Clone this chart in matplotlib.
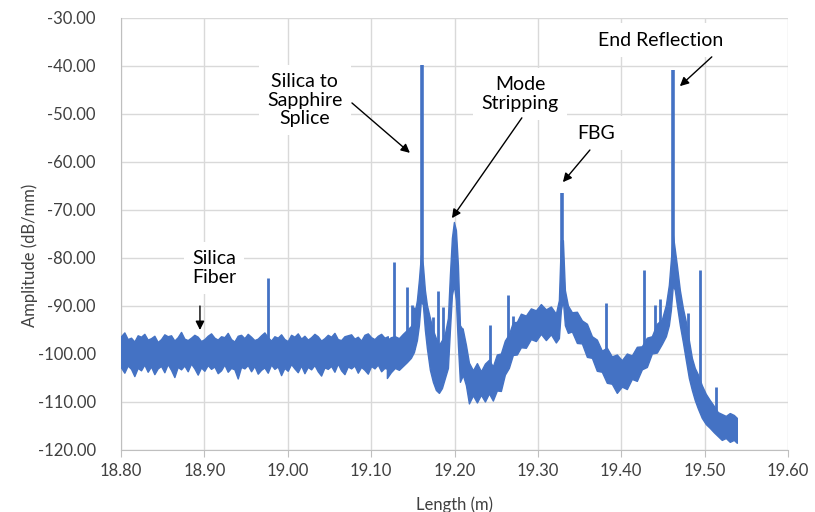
import matplotlib
matplotlib.use("Agg")
import matplotlib.pyplot as plt
from matplotlib.ticker import FormatStrFormatter

plt.rcParams['font.family'] = ['Lato', 'DejaVu Sans']

BLUE = '#4472C4'
GRID = '#D9D9D9'
AXIS = '#BFBFBF'
TEXT = '#404040'

# trace envelope: silica fiber noise floor, sampled every 4 mm from 18.800 to 19.120
floor_x = [round(18.800 + 0.004 * i, 3) for i in range(81)]
floor_hi = [-96.3, -95.5, -96.9, -96.6, -97.4, -96.1, -96.4, -95.8, -97.0, -96.7,
            -96.2, -97.5, -96.9, -95.9, -96.3, -96.1, -97.2, -96.5, -95.4, -96.8,
            -97.1, -96.6, -96.0, -96.4, -97.3, -96.9, -96.2, -95.7, -96.6, -97.0,
            -96.3, -96.5, -95.6, -96.9, -97.4, -96.2, -96.0, -96.7, -95.8, -96.4,
            -97.1, -96.8, -96.1, -95.5, -96.5, -97.2, -96.3, -96.6, -95.9, -96.9,
            -97.3, -96.0, -96.4, -95.7, -96.8, -96.2, -97.0, -96.5, -95.8, -96.3,
            -97.2, -96.7, -96.0, -96.4, -95.6, -96.9, -97.1, -96.3, -96.1, -95.9,
            -96.8, -96.4, -97.2, -96.0, -95.7, -96.5, -96.9, -96.2, -95.8, -96.6, -96.3]
floor_lo = [-102.8, -103.9, -102.4, -103.1, -104.6, -102.9, -103.4, -102.2, -103.7, -102.6,
            -104.2, -103.0, -102.5, -103.8, -102.1, -103.3, -104.8, -102.7, -103.2, -102.4,
            -103.6, -102.0, -103.0, -104.3, -102.8, -103.5, -102.3, -103.1, -102.6, -104.0,
            -103.4, -102.2, -103.7, -102.9, -103.2, -105.1, -102.7, -103.0, -102.3, -103.6,
            -102.5, -104.1, -103.3, -102.8, -103.9, -102.2, -103.1, -102.6, -104.4, -102.9,
            -103.5, -102.1, -103.0, -103.8, -102.4, -104.0, -102.7, -103.2, -102.3, -103.6,
            -104.5, -102.8, -103.1, -102.5, -103.7, -102.0, -103.4, -104.2, -102.6, -103.0,
            -102.4, -103.9, -102.7, -103.3, -104.1, -102.5, -103.0, -102.2, -103.6, -102.9, -103.1]

# trace envelope: sapphire section
sapph_x = [19.1189, 19.1237, 19.1285, 19.1333, 19.1381, 19.1429, 19.1477, 19.1513, 19.1549, 19.1573,
           19.1597, 19.1621, 19.1645, 19.1669, 19.1705, 19.1741, 19.1777, 19.1813, 19.1849, 19.1885,
           19.1921, 19.1945, 19.1969, 19.1993, 19.2017, 19.2041, 19.2065, 19.2101, 19.2137, 19.2173,
           19.2221, 19.2269, 19.2317, 19.2365, 19.2413, 19.2460, 19.2508, 19.2556, 19.2604, 19.2652,
           19.2700, 19.2748, 19.2796, 19.2856, 19.2916, 19.2976, 19.3036, 19.3096, 19.3156, 19.3216,
           19.3252, 19.3276, 19.3300, 19.3324, 19.3360, 19.3408, 19.3468, 19.3528, 19.3588, 19.3648,
           19.3707, 19.3767, 19.3827, 19.3887, 19.3947, 19.4007, 19.4067, 19.4127, 19.4187, 19.4247,
           19.4307, 19.4367, 19.4427, 19.4487, 19.4535, 19.4571, 19.4595, 19.4619, 19.4643, 19.4667,
           19.4703, 19.4739, 19.4775, 19.4811, 19.4847, 19.4882, 19.4918, 19.4966, 19.5014, 19.5062,
           19.5110, 19.5158, 19.5206, 19.5254, 19.5302, 19.5350, 19.5386]
sapph_hi = [-97.1, -96.5, -96.3, -96.7, -95.8, -95.0, -94.2, -92.5, -88.8, -84.6,
            -79.4, -81.5, -86.7, -89.8, -92.5, -95.0, -96.7, -98.1, -97.1, -95.8,
            -92.5, -83.5, -75.8, -72.5, -74.2, -81.5, -94.0, -95.0, -98.1, -101.8,
            -103.4, -101.9, -103.6, -102.0, -101.2, -102.6, -100.1, -99.9, -97.2, -95.9,
            -93.4, -93.3, -91.6, -92.0, -90.5, -90.9, -89.6, -90.7, -90.1, -91.6,
            -88.8, -76.3, -76.3, -86.7, -89.9, -91.3, -91.2, -93.0, -93.7, -96.3,
            -97.0, -99.3, -98.7, -100.5, -100.1, -101.3, -99.9, -100.3, -98.5, -98.4,
            -96.6, -96.3, -93.7, -92.8, -89.8, -85.6, -80.4, -75.2, -78.3, -81.5,
            -86.7, -90.4, -93.3, -97.1, -100.8, -102.9, -104.2, -106.5, -108.3, -109.6,
            -110.8, -112.1, -112.5, -112.9, -112.3, -112.7, -113.3]
sapph_lo = [-105.0, -103.8, -102.9, -103.3, -102.5, -101.7, -100.8, -99.6, -97.1, -94.0,
            -88.8, -89.8, -95.0, -98.8, -103.3, -105.8, -107.5, -108.1, -107.1, -105.0,
            -102.9, -95.0, -87.7, -85.6, -88.8, -98.1, -105.8, -104.4, -106.5, -110.3,
            -108.6, -110.1, -108.5, -109.9, -108.2, -109.7, -107.6, -107.7, -104.3, -102.9,
            -100.2, -100.1, -98.6, -98.7, -96.9, -97.3, -95.8, -97.1, -95.9, -97.6,
            -96.7, -90.8, -88.8, -94.0, -95.6, -95.3, -97.7, -97.8, -100.6, -100.8,
            -103.5, -103.7, -106.0, -106.2, -108.1, -106.8, -107.3, -105.2, -105.6, -103.2,
            -102.7, -99.9, -99.7, -97.9, -96.3, -94.0, -90.8, -85.6, -86.7, -89.8,
            -94.0, -97.5, -101.3, -105.0, -107.5, -109.6, -111.3, -113.3, -114.6, -115.4,
            -116.3, -117.1, -117.9, -117.5, -118.3, -117.9, -118.5]

# narrow reflections standing above the floor
spike_x = [18.9763, 19.1273, 19.1429, 19.1489, 19.1513, 19.1741, 19.1801, 19.1861, 19.2089, 19.2424,
           19.2640, 19.2700, 19.3815, 19.4271, 19.4403, 19.4463, 19.4799, 19.4944, 19.5134]
spike_top = [-84.2, -80.8, -86.0, -89.8, -90.2, -92.3, -86.9, -90.2, -94.6, -94.0,
             -87.7, -92.0, -89.4, -82.6, -89.8, -88.5, -91.5, -82.5, -106.9]
spike_base = [-100.0, -102.0, -101.0, -100.0, -99.0, -104.0, -106.0, -105.0, -103.0, -108.0,
              -103.0, -100.0, -104.0, -103.0, -99.0, -98.0, -103.0, -110.0, -116.0]

# main events: splice, FBG, end reflection
peak_x = [19.1609, 19.3288, 19.4619]
peak_top = [-39.8, -66.5, -40.8]
peak_base = [-88.0, -88.0, -85.0]

x_ticks = [18.80, 18.90, 19.00, 19.10, 19.20, 19.30, 19.40, 19.50, 19.60]
y_ticks = [-120, -110, -100, -90, -80, -70, -60, -50, -40, -30]

fig = plt.figure(figsize=(8.15, 5.12), dpi=100)
ax = fig.add_axes([121 / 815, 1 - 450 / 512, 667 / 815, 432 / 512])

ax.fill_between(floor_x, floor_lo, floor_hi, color=BLUE, lw=1.0, zorder=3)
ax.fill_between(sapph_x, sapph_lo, sapph_hi, color=BLUE, lw=1.0, zorder=3)
ax.vlines(spike_x, spike_base, spike_top, color=BLUE, lw=2.0, zorder=3)
ax.vlines(peak_x, peak_base, peak_top, color=BLUE, lw=2.6, zorder=3)

ax.set_xlim(18.80, 19.60)
ax.set_ylim(-120, -30)
ax.set_xticks(x_ticks)
ax.set_yticks(y_ticks)
ax.xaxis.set_major_formatter(FormatStrFormatter('%.2f'))
ax.yaxis.set_major_formatter(FormatStrFormatter('%.2f'))
ax.grid(True, color=GRID, lw=1, zorder=0)
ax.set_axisbelow(True)
for side in ['top', 'right']:
    ax.spines[side].set_visible(False)
for side in ['left', 'bottom']:
    ax.spines[side].set_color(AXIS)
ax.tick_params(axis='x', length=5, color=AXIS, labelsize=12, labelcolor=TEXT, pad=4)
ax.tick_params(axis='y', length=0, labelsize=12, labelcolor=TEXT, pad=18)

ax.set_xlabel('Length (m)', fontsize=12, color=TEXT, labelpad=13)
ax.set_ylabel('Amplitude (dB/mm)', fontsize=12, color=TEXT)
ax.yaxis.set_label_coords(-0.125, 0.45)

box = dict(facecolor='white', edgecolor='none', pad=6)
arrow = dict(arrowstyle='-|>', color='black', lw=1, mutation_scale=13, shrinkA=0, shrinkB=0)

ax.text(18.9115, -82.1, 'Silica\nFiber', fontsize=14, ha='center', va='center',
        linespacing=1.1, bbox=box, zorder=4)
ax.annotate('', xy=(18.8947, -95.0), xytext=(18.8947, -90.0), arrowprops=arrow, zorder=5)

ax.text(19.0206, -47.1, 'Silica to\nSapphire\nSplice', fontsize=14, ha='center', va='center',
        linespacing=1.1, bbox=box, zorder=4)
ax.annotate('', xy=(19.1465, -58.1), xytext=(19.077, -47.7), arrowprops=arrow, zorder=5)

ax.text(19.2790, -45.8, 'Mode\nStripping', fontsize=14, ha='center', va='center',
        linespacing=1.1, bbox=box, zorder=4)
ax.annotate('', xy=(19.1969, -71.7), xytext=(19.2808, -50.8), arrowprops=arrow, zorder=5)

ax.text(19.3695, -54.0, 'FBG', fontsize=14, ha='center', va='center', bbox=box, zorder=4)
ax.annotate('', xy=(19.3300, -64.2), xytext=(19.3624, -57.5), arrowprops=arrow, zorder=5)

ax.text(19.4475, -34.6, 'End Reflection', fontsize=14, ha='center', va='center',
        bbox=box, zorder=4)
ax.annotate('', xy=(19.4703, -44.2), xytext=(19.5086, -38.1), arrowprops=arrow, zorder=5)

fig.savefig('out.png', dpi=100)
